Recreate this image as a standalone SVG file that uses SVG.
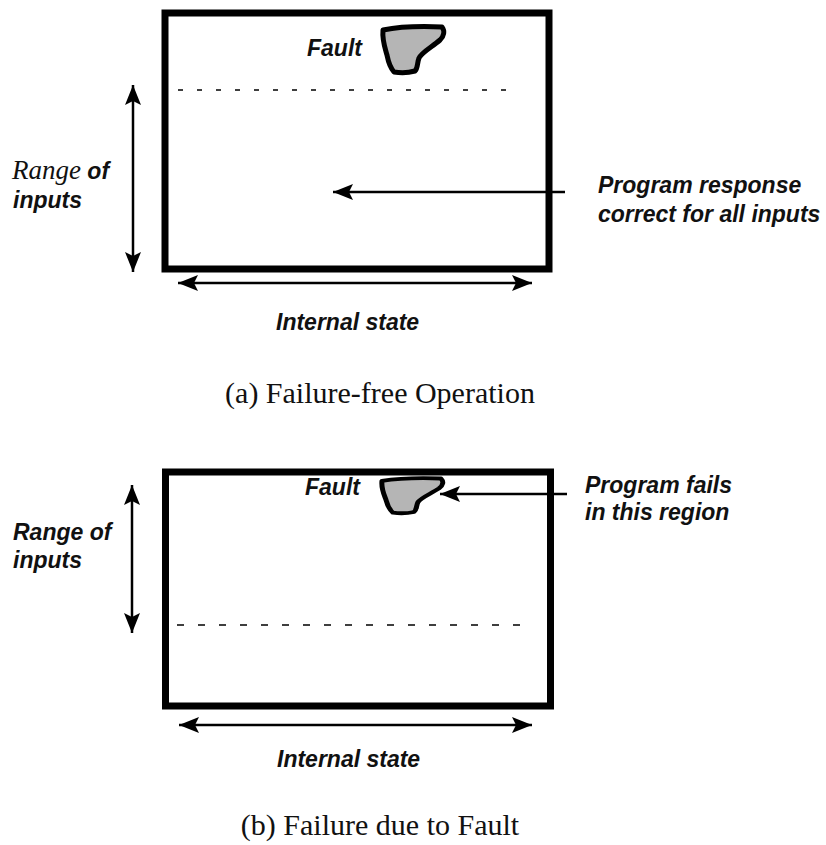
<svg xmlns="http://www.w3.org/2000/svg" width="826" height="845" viewBox="0 0 826 845">
<style>
.box{fill:none;stroke:#000;stroke-width:7}
.ax{stroke:#000;stroke-width:2.5;fill:none}
.dash{stroke:#000;stroke-width:1.6;fill:none}
.lbl{font-family:"Liberation Sans",Arial,sans-serif;font-weight:bold;font-style:italic;font-size:23px;fill:#111}
.cap{font-family:"Liberation Serif","Times New Roman",serif;font-size:30px;fill:#111}
.blob{fill:#b5b5b5;stroke:#000;stroke-width:5;stroke-linejoin:round}
</style>
<defs>
<marker id="ah" viewBox="0 0 20 16" refX="20" refY="8" markerWidth="20" markerHeight="16" orient="auto-start-reverse" markerUnits="userSpaceOnUse">
<path d="M0,0 L20,8 L0,16 L4,8 Z" fill="#000"/>
</marker>
<path id="blobShape" d="M383,30 C398,27 420,26 442,27 C445,31 444,36 440,40 C432,47 422,52 419,58 C417,63 418,68 415,71 C408,73 400,73 394,72 C389,66 388,60 387,55 C385,48 382,40 383,30 Z"/>
</defs>

<g id="panel-a">
<g id="box-a"><rect class="box" x="165" y="13" width="384" height="256"/></g>
<g id="fault-a">
<use href="#blobShape" class="blob"/>
<text class="lbl" x="307" y="56" font-size="22">Fault</text>
</g>
<g id="range-a">
<text x="12" y="179" class="lbl"><tspan style="font-family:'Liberation Serif','Times New Roman',serif;font-weight:normal;font-size:27px">Range</tspan> of</text>
<text class="lbl" x="13" y="208" font-size="22">inputs</text>
</g>
<g id="state-a"><text class="lbl" x="276" y="330">Internal state</text></g>
<g id="resp-a">
<text class="lbl" x="598" y="193">Program  response</text>
<text class="lbl" x="598" y="222">correct for all inputs</text>
</g>
<g id="caption-a"><text class="cap" x="380" y="403" text-anchor="middle">(a) Failure-free Operation</text></g>
</g>

<g id="panel-b">
<g id="box-b"><rect class="box" x="165.5" y="472" width="385" height="234"/></g>
<g id="fault-b">
<use href="#blobShape" class="blob" vector-effect="non-scaling-stroke" transform="translate(-1,458) scale(1,0.76)"/>
<text class="lbl" x="305" y="495" font-size="22">Fault</text>
</g>
<g id="range-b">
<text class="lbl" x="13" y="540" font-size="24">Range of</text>
<text class="lbl" x="13" y="568" font-size="24">inputs</text>
</g>
<g id="state-b"><text class="lbl" x="277" y="767">Internal  state</text></g>
<g id="fails-b">
<text class="lbl" x="585" y="493">Program fails</text>
<text class="lbl" x="585" y="520">in this region</text>
</g>
<g id="caption-b"><text class="cap" x="380" y="835" text-anchor="middle">(b) Failure due to Fault</text></g>
</g>

<g id="connectors">
<line class="dash" x1="178" y1="90" x2="520" y2="90" stroke-dasharray="5 14"/>
<line class="dash" x1="177" y1="625" x2="532" y2="625" stroke-dasharray="7 14"/>
<line class="ax" stroke-width="3" x1="133" y1="85" x2="133" y2="272" marker-start="url(#ah)" marker-end="url(#ah)"/>
<line class="ax" x1="178" y1="283" x2="532" y2="283" marker-start="url(#ah)" marker-end="url(#ah)"/>
<line class="ax" x1="565" y1="192" x2="333" y2="192" marker-end="url(#ah)"/>
<line class="ax" stroke-width="3" x1="132" y1="485" x2="132" y2="633" marker-start="url(#ah)" marker-end="url(#ah)"/>
<line class="ax" x1="179" y1="725" x2="532" y2="725" marker-start="url(#ah)" marker-end="url(#ah)"/>
<line class="ax" x1="567" y1="494" x2="440" y2="494" marker-end="url(#ah)"/>
</g>
</svg>
